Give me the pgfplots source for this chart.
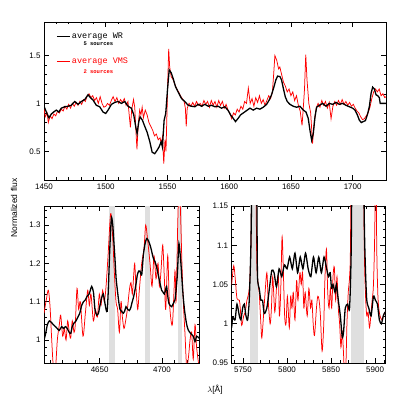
\documentclass[border=0pt]{standalone}
\usepackage{fontspec}
\setmainfont{Liberation Sans}
\setmonofont{Liberation Mono}
\usepackage{pgfplots}
\pgfplotsset{compat=1.18}
\begin{document}
\begin{tikzpicture}
\useasboundingbox (0pt,0pt) rectangle (407pt,407pt);
\pgfplotsset{
  every axis/.append style={
    scale only axis,
    axis line style={line width=0.6pt},
    major tick length=5pt, minor tick length=2.5pt,
    every tick/.style={line width=0.5pt, black},
    tick align=inside,
    scaled ticks=false,
    /pgf/number format/1000 sep={},
    /pgf/number format/assume math mode=true,
    tick label style={font=\fontsize{8}{9}\selectfont},
  },
  wr/.style={black, line width=1.3pt},
  vms/.style={red, line width=0.75pt},
  band/.style={fill=gray!25, draw=none, forget plot},
}
% ---------------- top panel ----------------
\begin{axis}[
  at={(44pt,227pt)}, anchor=south west,
  width=342pt, height=158pt,
  xmin=1450, xmax=1727, ymin=0.2, ymax=1.85,
  xtick={1450,1500,1550,1600,1650,1700}, minor x tick num=4,
  ytick={0.5,1,1.5}, minor y tick num=4,
  legend style={at={(0.035,0.942)}, anchor=north west, draw=none, fill=none,
    font=\ttfamily\fontsize{8.5}{10}\selectfont, row sep=15pt, inner sep=0pt,
    nodes={inner sep=1.5pt}},
  legend cell align=left,
  legend image code/.code={\draw[#1] (0pt,0pt) -- (13pt,0pt);},
]
\addlegendimage{wr}
\addlegendentry{average WR}
\addlegendimage{vms}
\addlegendentry{\textcolor{red}{average VMS}}
\addplot[vms, forget plot] table {
1450 0.95
1451 0.86
1452.5 0.90
1453.5 0.80
1455 0.87
1456.5 0.84
1458 0.89
1459.5 0.87
1461 0.92
1462.5 0.90
1464 0.94
1465.5 0.92
1467 0.97
1468.5 0.94
1470 0.99
1471.5 0.95
1473 1.0
1474.5 0.97
1476 1.01
1477.5 0.98
1479 1.02
1480.5 0.99
1482 1.04
1483.5 1.02
1485 1.08
1486.5 1.10
1488 1.06
1489.5 1.08
1491 1.03
1492.5 1.06
1494 1.0
1495.5 1.07
1497 1.0
1498.5 0.96
1500 0.97
1501.5 1.0
1503 0.98
1504.5 1.03
1506 1.07
1507.5 1.02
1509 1.06
1510.5 1.0
1512 1.04
1513.5 1.01
1515 1.05
1516.5 0.98
1518 1.02
1519 0.88
1520 0.75
1521 0.93
1522.5 1.04
1523.5 0.96
1524.5 0.70
1525.3 0.52
1526.3 0.78
1527.5 0.93
1528.5 0.88
1529.5 0.96
1530.5 0.85
1532 0.93
1533.5 0.88
1535 0.80
1536.5 0.76
1538 0.72
1539.5 0.66
1541 0.68
1542.5 0.62
1544 0.64
1545 0.58
1546 0.65
1547 0.37
1548 0.62
1548.8 0.50
1549.6 0.90
1550.4 1.30
1551 1.57
1551.8 1.38
1553 1.28
1554.5 1.25
1556 1.20
1557.5 1.15
1559 1.12
1560.5 1.08
1562 1.05
1563.5 1.02
1564.5 0.95
1565.2 0.76
1566 0.95
1567.5 1.0
1569 0.97
1570.5 1.01
1572 0.97
1573.5 1.02
1575 0.98
1576.5 1.0
1578 0.97
1579.5 1.03
1581 0.99
1582.5 1.02
1584 0.96
1585.5 1.03
1587 0.98
1588.5 1.02
1590 0.96
1591.5 1.03
1593 0.98
1594.5 1.02
1596 0.95
1597.5 0.99
1599 0.93
1600.5 0.90
1602 0.84
1603.5 0.90
1605 0.88
1606.5 0.94
1608 0.91
1609.5 0.97
1611 0.94
1612.5 1.02
1614 1.0
1615.5 1.16
1617 1.0
1618.5 1.05
1620 0.97
1621.5 1.06
1623 1.01
1624.5 1.08
1626 1.0
1627.5 1.04
1629 0.98
1630.5 1.03
1632 1.08
1633.5 1.05
1635 1.12
1636 1.30
1637 1.50
1638.5 1.45
1640 1.36
1641 1.38
1642.5 1.30
1644 1.22
1645.5 1.18
1647 1.12
1648.5 1.15
1650 1.08
1651.5 1.12
1653 1.03
1654.5 1.08
1656 0.98
1657.5 0.92
1659 0.77
1660 0.95
1661 1.15
1662 1.51
1663 1.25
1664.5 1.0
1666 0.90
1667.5 0.58
1669 0.82
1670.5 0.95
1672 1.0
1673.5 0.96
1675 1.03
1676.5 0.98
1678 1.02
1679.5 0.95
1681 1.01
1682.5 0.84
1684 0.97
1685.5 1.02
1687 0.98
1688.5 1.03
1690 0.99
1691.5 1.04
1693 0.99
1694.5 1.02
1696 0.98
1697.5 1.01
1699 0.97
1700.5 0.99
1702 0.95
1703.5 0.92
1705 0.90
1706.5 0.86
1708 0.83
1709.5 0.84
1711 0.87
1712.5 0.90
1714 0.96
1715.5 1.05
1717 1.12
1718.5 1.15
1720 1.12
1721.5 1.15
1723 1.08
1724.5 1.10
1726 1.06
1727 1.07
};
\addplot[wr, forget plot] table {
1450 0.97
1451.9 0.91
1454 0.85
1456 0.89
1457.8 0.91
1460 0.93
1462 0.91
1464 0.95
1466.8 0.965
1469.5 0.97
1472 0.98
1474.9 1.02
1477.6 0.99
1480.3 1.02
1483 1.04
1485.7 1.09
1487.6 1.06
1489.7 1.035
1492.4 0.98
1495.1 0.965
1497.8 0.91
1500 0.895
1501.9 0.93
1504.6 0.99
1507.3 1.01
1510 1.02
1512.7 1.0
1515.4 1.02
1518.1 0.97
1520.8 0.95
1522.7 0.88
1524.3 0.755
1525.4 0.685
1526.8 0.81
1527.8 0.86
1529.7 0.825
1531.6 0.76
1533.5 0.70
1535.7 0.60
1537.6 0.49
1539.7 0.475
1541.6 0.51
1543.2 0.545
1544.9 0.60
1545.9 0.545
1547.3 0.825
1548.6 0.895
1550 1.14
1551.4 1.35
1553 1.32
1554.6 1.26
1556.5 1.175
1558.6 1.12
1561.4 1.05
1564 1.02
1566.8 0.98
1569.5 0.97
1572.2 0.965
1574.9 0.99
1577.6 0.97
1580.3 0.99
1583 0.97
1585.7 0.98
1588.4 0.965
1591.1 0.97
1593.8 0.95
1596.5 0.965
1599.2 0.925
1601.1 0.88
1603.2 0.845
1605.1 0.81
1607.3 0.845
1609.2 0.88
1611.4 0.90
1614.1 0.925
1616.8 0.95
1619.5 0.93
1622.2 0.95
1624.9 0.94
1627.6 0.96
1630.3 0.99
1632.4 1.035
1634.3 1.09
1636.2 1.17
1637.8 1.245
1639.2 1.285
1641.1 1.28
1642.4 1.245
1643.8 1.16
1645.4 1.07
1647 1.02
1649.2 0.99
1651.9 0.97
1654.6 0.96
1657.3 0.97
1660 0.93
1662.2 0.91
1664 0.845
1665.4 0.72
1666.8 0.615
1668.1 0.685
1669.5 0.86
1670.8 0.96
1673 0.98
1675.7 1.0
1678.4 0.97
1681.1 1.0
1683.8 0.99
1686.5 1.01
1689.2 0.99
1691.9 1.0
1694.6 0.98
1697.3 0.965
1700 0.95
1701.9 0.93
1703.8 0.88
1705.4 0.825
1707 0.80
1708.6 0.81
1710.3 0.82
1711.9 0.88
1713.5 0.965
1714.9 1.105
1716.2 1.17
1717.6 1.15
1718.9 1.09
1720.3 1.08
1721.6 1.06
1722.3 1.0
1727 1.0
};
\end{axis}
\node[anchor=west, font=\ttfamily\bfseries\fontsize{5.5}{6}\selectfont] at (80pt,363pt) {5 sources};
\node[anchor=west, text=red, font=\ttfamily\bfseries\fontsize{5.5}{6}\selectfont] at (80pt,335pt) {2 sources};
% ---------------- bottom left ----------------
\begin{axis}[
  at={(44pt,44pt)}, anchor=south west,
  width=155pt, height=157pt,
  xmin=4605.3, xmax=4729.7, ymin=0.94, ymax=1.35,
  xtick={4650,4700},
  minor xtick={4610,4620,4630,4640,4660,4670,4680,4690,4710,4720},
  ytick={1,1.1,1.2,1.3},
  minor ytick={0.96,0.98,1.02,1.04,1.06,1.08,1.12,1.14,1.16,1.18,1.22,1.24,1.26,1.28,1.32,1.34},
]
\addplot[band] coordinates {(4657.7,0.9) (4662,0.9) (4662,1.4) (4657.7,1.4)} -- cycle;
\addplot[band] coordinates {(4686.3,0.9) (4690.6,0.9) (4690.6,1.4) (4686.3,1.4)} -- cycle;
\addplot[band] coordinates {(4712.8,0.9) (4716.3,0.9) (4716.3,1.4) (4712.8,1.4)} -- cycle;
\addplot[vms, smooth, tension=0.5] table {
4605.3 1.07
4607.4 1.11
4608.8 1.13
4610.1 1.09
4611.5 1.0
4612.8 0.93
4614.4 0.92
4616.0 1.0
4617.6 1.04
4618.7 1.065
4620.3 1.01
4621.6 1.03
4623.0 1.0
4624.3 1.05
4625.6 1.02
4626.7 1.005
4628.0 1.05
4629.4 1.02
4630.4 1.04
4631.8 1.135
4633.1 1.08
4634.5 1.1
4636.6 1.01
4638.5 1.07
4640.4 1.13
4641.7 1.09
4643.0 1.12
4644.9 1.05
4646.5 1.08
4648.1 1.06
4649.7 1.12
4651.0 1.09
4652.4 1.13
4653.7 1.1
4655.1 1.14
4656.7 1.22
4658.8 1.33
4660.4 1.27
4661.7 1.18
4663.1 1.1
4664.4 1.08
4665.8 1.02
4667.1 1.1
4668.2 1.06
4669.5 1.03
4670.8 1.05
4672.2 1.08
4673.8 1.13
4675.1 1.15
4676.2 1.12
4677.3 1.17
4678.1 1.2
4679.1 1.14
4680.5 1.08
4681.8 1.13
4683.7 1.2
4685.6 1.24
4686.9 1.3
4688.5 1.26
4690.4 1.2
4692.0 1.14
4693.6 1.22
4695.2 1.16
4696.8 1.2
4697.9 1.14
4699.2 1.18
4700.6 1.248
4701.9 1.16
4703.0 1.08
4704.6 1.22
4705.9 1.1
4708.3 1.04
4710.4 1.18
4711.3 1.1
4712.6 1.3
4713.6 1.4
4714.7 1.35
4716.0 1.2
4717.1 1.1
4718.4 1.02
4719.8 0.93
4721.4 0.96
4722.5 1.0
4723.8 1.02
4725.1 0.95
4726.5 1.04
4727.8 0.98
4729.7 0.93
};
\addplot[wr, smooth, tension=0.4] table {
4605.3 1.00
4606.5 1.015
4608.0 1.04
4609.6 1.05
4611.5 1.045
4612.8 1.04
4614.5 1.035
4616.0 1.03
4617.5 1.025
4619.5 1.035
4621.0 1.03
4622.5 1.035
4624.0 1.03
4625.5 1.02
4626.8 1.018
4628.0 1.035
4629.5 1.045
4631.0 1.05
4632.5 1.06
4634.0 1.07
4635.5 1.09
4637.0 1.10
4638.5 1.105
4640.0 1.115
4641.5 1.12
4642.5 1.13
4643.6 1.14
4645.0 1.125
4646.2 1.08
4647.6 1.065
4649.0 1.07
4650.2 1.09
4651.5 1.11
4652.9 1.12
4654.0 1.10
4655.1 1.08
4656.0 1.075
4656.9 1.13
4658.0 1.23
4659.0 1.30
4659.6 1.32
4660.5 1.30
4661.5 1.25
4662.3 1.21
4663.2 1.16
4664.2 1.13
4665.3 1.10
4666.3 1.08
4667.5 1.075
4669.0 1.07
4670.0 1.075
4671.1 1.087
4672.5 1.08
4673.8 1.077
4675.0 1.085
4675.7 1.095
4677.0 1.11
4678.3 1.13
4679.3 1.15
4680.2 1.17
4681.3 1.18
4682.3 1.18
4683.7 1.17
4685.0 1.22
4686.3 1.25
4687.7 1.265
4689.0 1.26
4690.4 1.248
4691.5 1.235
4692.5 1.22
4693.5 1.21
4694.4 1.205
4695.7 1.19
4697.0 1.17
4698.3 1.15
4699.7 1.13
4700.8 1.125
4701.9 1.12
4702.8 1.13
4703.7 1.14
4704.6 1.115
4705.6 1.095
4706.7 1.09
4707.8 1.087
4709.0 1.095
4710.4 1.105
4711.3 1.13
4712.3 1.17
4713.0 1.22
4713.6 1.252
4714.4 1.23
4715.2 1.2
4716.2 1.15
4717.1 1.11
4718.2 1.075
4719.3 1.05
4720.2 1.035
4721.1 1.026
4723.0 1.017
4725.1 1.01
4726.5 0.996
4727.8 1.01
4729.7 1.005
};
\end{axis}
% ---------------- bottom right ----------------
\begin{axis}[
  at={(231.7pt,44pt)}, anchor=south west,
  width=153.3pt, height=157pt,
  xmin=5737.2, xmax=5911.2, ymin=0.95, ymax=1.15,
  xtick={5750,5800,5850,5900},
  minor xtick={5740,5760,5770,5780,5790,5810,5820,5830,5840,5860,5870,5880,5890,5910},
  ytick={0.95,1,1.05,1.1,1.15},
  minor ytick={0.96,0.97,0.98,0.99,1.01,1.02,1.03,1.04,1.06,1.07,1.08,1.09,1.11,1.12,1.13,1.14},
  yticklabel style={/pgf/number format/fixed},
]
\addplot[band] coordinates {(5758.3,0.9) (5766.5,0.9) (5766.5,1.2) (5758.3,1.2)} -- cycle;
\addplot[band] coordinates {(5872.9,0.9) (5887.5,0.9) (5887.5,1.2) (5872.9,1.2)} -- cycle;
\addplot[vms, smooth, tension=0.5] table {
5737.2 1.05
5739.5 1.074
5741.4 1.055
5743.2 1.032
5745.9 1.03
5746.9 1.02
5748.5 0.998
5750.8 1.01
5752.6 1.015
5754.5 1.03
5757.1 1.045
5759.0 1.1
5761.3 1.3
5763.5 1.4
5765.4 1.1
5767.3 1.05
5768.4 1.04
5770.3 1.0
5771.4 0.982
5773.3 1.01
5774.8 1.035
5777.1 1.065
5778.6 1.03
5780.8 1.0
5782.3 1.02
5783.8 1.06
5786.1 1.015
5788.3 1.05
5790.2 1.06
5791.3 1.01
5792.8 1.04
5794.3 1.11
5795.5 1.08
5797.3 1.01
5798.9 1.0
5800.4 1.035
5802.6 0.995
5804.1 1.035
5805.6 1.02
5807.1 1.04
5809.0 1.005
5810.9 1.055
5812.4 1.03
5814.6 1.065
5816.1 1.05
5817.6 1.065
5819.1 1.02
5820.6 1.04
5822.9 1.01
5824.8 1.045
5826.7 1.02
5828.2 1.03
5829.7 1.0
5831.2 0.985
5833.4 1.02
5834.9 1.035
5836.4 1.03
5837.9 1.01
5839.8 0.965
5841.7 1.0
5842.8 1.05
5844.7 1.095
5846.2 1.04
5847.7 1.02
5849.2 1.045
5850.7 1.02
5852.2 1.06
5853.7 1.072
5855.2 1.03
5856.7 1.06
5858.2 1.02
5859.7 1.0
5861.2 0.97
5862.7 0.99
5864.2 0.96
5865.4 0.93
5866.9 0.95
5868.0 1.0
5869.5 1.04
5871.0 1.06
5872.1 1.11
5874.0 1.4
5879.3 1.7
5884.9 1.5
5887.5 1.12
5889.0 1.04
5890.5 1.01
5892.0 1.015
5893.6 0.995
5895.1 1.01
5896.6 1.03
5898.1 1.05
5899.6 1.12
5900.7 1.25
5901.8 1.1
5903.0 1.04
5904.1 1.02
5905.6 1.01
5907.5 1.005
5909.3 1.01
5911.2 1.015
};
\addplot[wr, smooth, tension=0.4] table {
5737.2 0.995
5738.3 1.008
5741.0 1.005
5743.2 1.025
5745.9 1.01
5747.7 1.005
5749.6 1.02
5751.5 1.025
5753.4 1.01
5755.3 1.005
5757.1 1.03
5759.0 1.1
5760.9 1.25
5762.8 1.4
5764.7 1.35
5765.8 1.15
5766.5 1.06
5768.4 1.045
5770.3 1.03
5772.2 1.03
5774.1 1.013
5777.1 1.02
5779.7 1.042
5782.7 1.068
5785.3 1.065
5788.0 1.047
5791.0 1.07
5794.0 1.06
5797.0 1.075
5800.0 1.07
5803.0 1.085
5806.0 1.07
5809.0 1.09
5812.0 1.065
5815.0 1.085
5818.0 1.07
5821.0 1.09
5824.0 1.07
5827.0 1.06
5830.0 1.085
5833.0 1.065
5836.0 1.085
5839.0 1.065
5842.0 1.085
5845.0 1.07
5847.0 1.06
5849.0 1.065
5850.5 1.045
5852.2 1.05
5854.5 1.04
5856.0 1.05
5858.2 1.03
5860.5 1.01
5862.7 0.983
5864.2 0.99
5866.1 1.02
5868.8 1.025
5871.0 1.02
5872.9 1.1
5874.8 1.35
5879.3 1.6
5884.9 1.5
5887.5 1.15
5889.0 1.07
5890.5 1.03
5892.8 1.02
5895.4 1.01
5898.1 1.035
5900.3 1.03
5902.6 1.025
5904.8 1.005
5907.1 1.0
5909.3 1.01
5911.2 1.015
};
\end{axis}
\node[rotate=90, font=\fontsize{8.5}{10}\selectfont] at (14pt,199pt) {Normalized flux};
\node[font=\fontsize{8.5}{10}\selectfont] at (215pt,17pt) {$\lambda$[Å]};
\end{tikzpicture}
\end{document}
